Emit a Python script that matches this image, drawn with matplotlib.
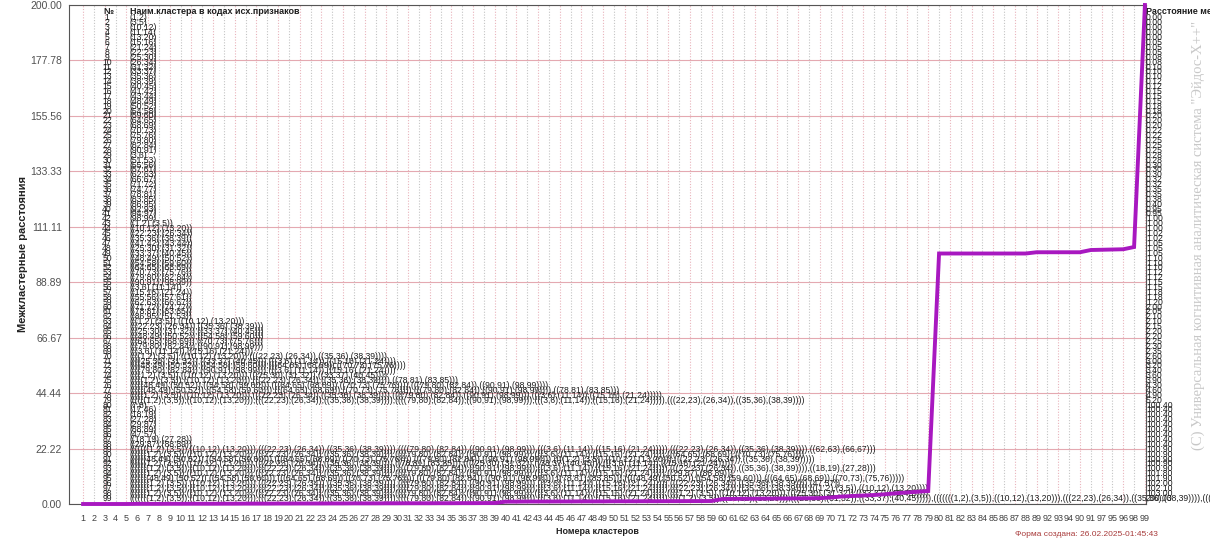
import matplotlib
matplotlib.use("Agg")
from matplotlib import pyplot as plt
from matplotlib import font_manager
import numpy as np

plt.rcParams["font.family"] = ["Liberation Sans", "DejaVu Sans"]

W, H = 1210, 539

# cluster numbers in the order they stand on the x axis
X_LABELS = list(range(1, 90)) + [92, 93, 94, 90, 91, 97, 95, 96, 98, 99]

# inter-cluster distance for each position / table row
DIST = [
    0.00, 0.00, 0.00, 0.00, 0.00, 0.05, 0.05, 0.05, 0.08, 0.08,
    0.10, 0.10, 0.10, 0.12, 0.12, 0.15, 0.15, 0.15, 0.18, 0.18,
    0.20, 0.20, 0.20, 0.22, 0.22, 0.25, 0.25, 0.25, 0.28, 0.28,
    0.30, 0.30, 0.30, 0.32, 0.32, 0.35, 0.35, 0.38, 0.40,
    0.95, 0.95, 1.00, 1.00, 1.00, 1.02, 1.02, 1.05, 1.05, 1.05,
    1.10, 1.10, 1.10, 1.12, 1.12, 1.15, 1.15, 1.18, 1.18, 1.20,
    2.00, 2.05, 2.10, 2.10, 2.15, 2.20, 2.20, 2.25, 2.30, 2.35,
    2.60, 3.00, 3.20, 3.40, 3.60, 3.90, 4.30, 4.60, 4.90, 5.20,
    100.40, 100.40, 100.40, 100.40, 100.40, 100.40, 100.40, 100.40, 100.40,
    100.90, 100.90, 100.90, 100.90, 100.90,
    101.80, 101.90, 102.00, 102.10,
    103.00,
    200.00,
]

# table rows: pairs of source feature codes
LEAF_PAIRS = {
    1: (1, 2), 2: (3, 5), 3: (10, 12), 4: (11, 14), 5: (13, 20),
    6: (15, 16), 7: (21, 24), 8: (22, 23), 9: (25, 30), 10: (26, 34),
    11: (31, 32), 12: (33, 37), 13: (35, 36), 14: (38, 39), 15: (40, 45),
    16: (41, 42), 17: (43, 44), 18: (48, 49), 19: (50, 52), 20: (54, 58),
    21: (59, 60), 22: (64, 65), 23: (68, 69), 24: (70, 73), 25: (75, 76),
    26: (79, 80), 27: (82, 84), 28: (90, 91), 29: (3, 6), 30: (51, 53),
    31: (55, 56), 32: (57, 61), 33: (62, 63), 34: (66, 67), 35: (71, 72),
    36: (74, 77), 37: (78, 81), 38: (83, 85), 39: (86, 95), 40: (92, 93),
    41: (94, 97), 42: (98, 99),
    80: (7, 8), 81: (17, 46), 82: (18, 19), 83: (27, 28), 84: (29, 87),
    85: (88, 89), 86: (47, 57),
}

# table rows made by joining two earlier rows
ROW_MERGES = {
    43: (1, 2), 44: (3, 5), 45: (8, 10), 46: (13, 14), 47: (16, 17),
    48: (9, 11), 49: (12, 15), 50: (18, 19), 51: (20, 21), 52: (22, 23),
    53: (24, 25), 54: (26, 27), 55: (28, 42), 56: (29, 4), 57: (6, 7),
    58: (31, 32), 59: (33, 34), 60: (35, 36), 61: (37, 38), 62: (39, 30),
    63: (43, 44), 64: (45, 46), 65: (48, 49), 66: (50, 51), 67: (52, 53),
    68: (54, 55), 69: (56, 57),
    70: (63, 64), 71: (65, 69), 72: (66, 67),
    73: (68, 69), 74: (63, 65), 75: (70, 61), 76: (72, 68), 77: (76, 61),
    78: (70, 73), 79: (78, 64),
    87: (82, 83), 88: (84, 85),
    89: (79, 59), 90: (78, 67), 91: (76, 70), 92: (75, 71), 93: (79, 87),
    94: (78, 88), 95: (77, 72), 96: (79, 86), 97: (79, 63), 98: (78, 74),
    99: (98, 93),
}


def cluster_name(row):
    if row in LEAF_PAIRS:
        a, b = LEAF_PAIRS[row]
        return "(%d,%d)" % (a, b)
    a, b = ROW_MERGES[row]
    return "(" + cluster_name(a) + "," + cluster_name(b) + ")"


def fx(x):
    return x / W


def fy(y):
    return 1 - y / H


# narrow face for the table if the system has it
names = {f.name for f in font_manager.fontManager.ttflist}
if "Liberation Sans Narrow" in names:
    table_font = ["Liberation Sans Narrow", "DejaVu Sans"]
    table_size = 7.5
else:
    table_font = ["Liberation Sans", "DejaVu Sans"]
    table_size = 6.2

fig = plt.figure(figsize=(W / 100, H / 100), dpi=100)
ax = fig.add_axes([fx(69), fy(504), (1146 - 69) / W, (504 - 5) / H])

xs = np.arange(1, len(X_LABELS) + 1)
yticks = np.linspace(0, 200, 10)

ax.set_xlim(-0.3, 99.1)
ax.set_ylim(0, 200)

# grid
ax.hlines(yticks, -0.3, 99.1, colors="#e4a9b1", linewidth=0.8, zorder=1)
vcolors = ["#e9b3bb" if i % 2 == 0 else "#c4c4c4" for i in range(len(xs))]
ax.vlines(xs, 0, 200, colors=vcolors, linestyles=(0, (1, 1.5)), linewidth=0.8, zorder=1)

ax.plot(xs, DIST, color="#a818c0", linewidth=2.8, zorder=6, clip_on=False,
        solid_joinstyle="miter")

ax.set_xticks(xs)
ax.set_xticklabels([str(v) for v in X_LABELS], fontsize=6.5, color="#404040")
ax.set_yticks(yticks)
ax.set_yticklabels(["%.2f" % v for v in yticks], fontsize=7.5, color="#505050")
ax.tick_params(axis="x", length=0, pad=7)
ax.tick_params(axis="y", length=0, pad=5)
for s in ax.spines.values():
    s.set_color("#555555")
    s.set_linewidth(0.8)

# table drawn over the chart
tkw = dict(transform=fig.transFigure, color="#1e1e1e", zorder=3, clip_on=False)
ax.text(fx(103), fy(12), "№", fontsize=6.5, fontweight="bold", va="center", **tkw)
ax.text(fx(130), fy(12), "Наим.кластера в кодах исх.признаков", fontsize=6.5,
        fontweight="bold", va="center", **tkw)
ax.text(fx(1146), fy(12), "Расстояние между кластерами", fontsize=6.5,
        fontweight="bold", va="center", **tkw)
for i in range(1, 100):
    y = 18 + (i - 1) * 4.9
    ax.text(fx(107), fy(y), str(i), fontsize=table_size, family=table_font,
            ha="center", va="center", **tkw)
    ax.text(fx(130), fy(y), cluster_name(i), fontsize=table_size, family=table_font,
            ha="left", va="center", **tkw)
    ax.text(fx(1146), fy(y), "%.2f" % DIST[i - 1], fontsize=table_size,
            family=table_font, ha="left", va="center", **tkw)

fig.text(fx(23), fy(254), "Межкластерные расстояния", rotation=90, fontsize=8,
         fontweight="bold", ha="center", va="center", color="#222222")
fig.text(fx(597), fy(532), "Номера кластеров", fontsize=6.5, fontweight="bold",
         ha="center", va="center", color="#222222")
fig.text(fx(1158), fy(535), "Форма создана: 26.02.2025-01:45:43", fontsize=6,
         ha="right", va="center", color="#a83a3a")
fig.text(fx(1198), fy(235),
         "(С) Универсальная когнитивная аналитическая система \"Эйдос-X++\"",
         rotation=90, fontsize=10.5, family=["Liberation Serif", "DejaVu Serif"],
         ha="center", va="center", color="#c8c8c8")

fig.savefig("out.png", dpi=100)
